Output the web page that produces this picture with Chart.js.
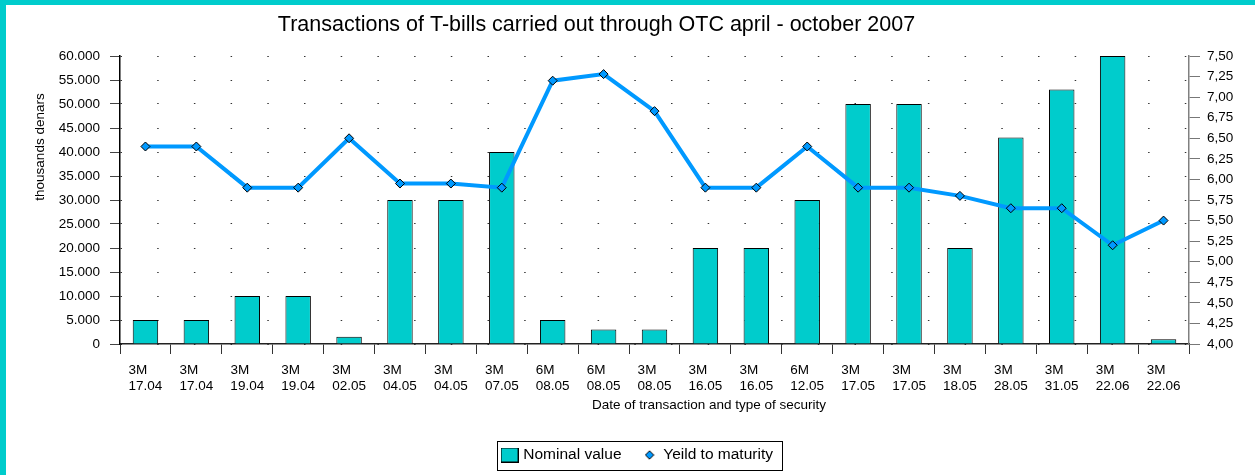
<!DOCTYPE html>
<html>
<head>
<meta charset="utf-8">
<script src="https://cdn.jsdelivr.net/npm/chart.js@4.4.1/dist/chart.umd.min.js"></script>
<style>
  html, body { margin: 0; padding: 0; width: 1255px; height: 475px; overflow: hidden; background: #fff; }
  #wrap { position: absolute; left: 6px; top: 5px; width: 1244px; height: 470px; }
  #frameL { position: absolute; left: 0; top: 0; width: 6px; height: 475px; background: #00CCCC; z-index: 5; }
  #frameT { position: absolute; left: 0; top: 0; width: 1255px; height: 5px; background: #00CCCC; z-index: 5; }
</style>
</head>
<body>
<div id="frameL"></div><div id="frameT"></div>
<div id="wrap"><canvas id="c" width="1244" height="470"></canvas></div>
<script>
const TITLE = 'Transactions of T-bills carried out through OTC april - october 2007';
const X_TITLE = 'Date of transaction and type of security';
const Y_TITLE = 'thousands denars';
const SERIES_NAMES = ['Nominal value', 'Yeild to maturity'];

const types = ['3M','3M','3M','3M','3M','3M','3M','3M','6M','6M','3M','3M','3M','6M','3M','3M','3M','3M','3M','3M','3M'];
const dates = ['17.04','17.04','19.04','19.04','02.05','04.05','04.05','07.05','08.05','08.05','08.05','16.05','16.05','12.05','17.05','17.05','18.05','28.05','31.05','22.06','22.06'];

const nominalValue = [5000, 5000, 10000, 10000, 1500, 30000, 30000, 40000, 5000, 3000, 3000, 20000, 20000, 30000, 50000, 50000, 20000, 43000, 53000, 60000, 1000];
const yieldToMaturity = [6.40, 6.40, 5.90, 5.90, 6.50, 5.95, 5.95, 5.90, 7.20, 7.28, 6.83, 5.90, 5.90, 6.40, 5.90, 5.90, 5.80, 5.65, 5.65, 5.20, 5.50];

const leftTicks = { min: 0, max: 60000, step: 5000 };
const rightTicks = { min: 4.0, max: 7.5, step: 0.25 };

const FONT = 'Liberation Sans, Arial, Helvetica, sans-serif';
const TEAL = '#00CCCC';
const BLUE = '#0099FF';

// labels: type on first line (left-aligned by padding), date on second
const labels = types.map((t, i) => [t + '    ', dates[i]]);

function fmtThousands(v) {
  const s = Math.round(v).toString();
  return s.replace(/\B(?=(\d{3})+(?!\d))/g, '.');
}

// legend icons
function makeSquareIcon() {
  const c = document.createElement('canvas');
  c.width = 18; c.height = 15;
  const g = c.getContext('2d');
  g.fillStyle = TEAL; g.fillRect(0, 0, 18, 15);
  g.strokeStyle = '#000'; g.lineWidth = 1; g.strokeRect(0.5, 0.5, 17, 14);
  return c;
}
function makeDiamondIcon() {
  const c = document.createElement('canvas');
  c.width = 10; c.height = 10;
  const g = c.getContext('2d');
  g.beginPath(); g.moveTo(5, 0.8); g.lineTo(9.2, 5); g.lineTo(5, 9.2); g.lineTo(0.8, 5); g.closePath();
  g.fillStyle = BLUE; g.fill(); g.strokeStyle = '#000'; g.lineWidth = 1; g.stroke();
  return c;
}
const legendIcons = [makeSquareIcon(), makeDiamondIcon()];

const textPlugin = {
  id: 'textPlugin',
  afterDraw(chart) {
    const ctx = chart.ctx;
    ctx.save();
    ctx.fillStyle = '#000';
    ctx.textAlign = 'center';
    ctx.textBaseline = 'middle';
    ctx.font = '21.5px ' + FONT;
    ctx.fillText(TITLE, 590.5, 20);
    ctx.font = '13.5px ' + FONT;
    ctx.fillText(X_TITLE, 703, 400.5);
    ctx.translate(34, 142);
    ctx.rotate(-Math.PI / 2);
    ctx.fillText(Y_TITLE, 0, 0);
    ctx.restore();
    // legend frame
    const hb = chart.legend && chart.legend.legendHitBoxes;
    if (hb && hb.length) {
      const last = hb[hb.length - 1];
      const left = hb[0].left - 6.5;
      const right = last.left + last.width + 9.5;
      const cy = hb[0].top + hb[0].height / 2;
      ctx.save();
      ctx.strokeStyle = '#000';
      ctx.lineWidth = 1;
      ctx.strokeRect(Math.round(left) + 0.5, Math.round(cy - 14.5) + 0.5, Math.round(right - left), 29);
      ctx.restore();
    }
  }
};

new Chart(document.getElementById('c'), {
  type: 'bar',
  data: {
    labels: labels,
    datasets: [
      {
        type: 'bar',
        label: SERIES_NAMES[0],
        data: nominalValue,
        yAxisID: 'y',
        backgroundColor: TEAL,
        borderColor: '#000',
        borderWidth: 1,
        barPercentage: 0.5,
        categoryPercentage: 1.0,
        order: 1
      },
      {
        type: 'line',
        label: SERIES_NAMES[1],
        data: yieldToMaturity,
        yAxisID: 'y1',
        borderColor: BLUE,
        borderWidth: 4,
        tension: 0,
        pointStyle: 'rectRot',
        pointRadius: 4.5,
        pointBackgroundColor: BLUE,
        pointBorderColor: '#000',
        pointBorderWidth: 1,
        order: 0
      }
    ]
  },
  options: {
    responsive: false,
    animation: false,
    devicePixelRatio: 1,
    layout: { padding: { left: 22, right: 1.5, top: 51, bottom: 2.25 } },
    plugins: {
      title: { display: false },
      tooltip: { enabled: false },
      legend: {
        display: true,
        position: 'bottom',
        labels: {
          usePointStyle: true,
          boxWidth: 12,
          padding: 22,
          color: '#000',
          font: { family: FONT, size: 15.5 },
          sort: (a, b) => a.datasetIndex - b.datasetIndex,
          generateLabels: (chart) => {
            const items = Chart.defaults.plugins.legend.labels.generateLabels(chart);
            items.forEach(it => { it.pointStyle = legendIcons[it.datasetIndex]; });
            return items;
          }
        }
      }
    },
    scales: {
      x: {
        offset: true,
        grid: { display: true, drawOnChartArea: false, drawTicks: true, tickLength: 10, color: '#333', offset: true },
        border: { display: true, color: '#222', width: 1.5 },
        ticks: {
          color: '#000',
          font: { family: FONT, size: 13.5, lineHeight: 1.2 },
          padding: 8,
          maxRotation: 0,
          autoSkip: false
        },
        afterFit: (s) => { s.height = 81.25; }
      },
      y: {
        position: 'left',
        min: leftTicks.min,
        max: leftTicks.max,
        grid: { display: true, color: '#333', lineWidth: 1, tickLength: 10, tickColor: '#444' },
        border: { display: true, color: '#000', width: 1.5, dash: [1.5, 35.2] },
        ticks: {
          stepSize: leftTicks.step,
          color: '#000',
          padding: 10,
          font: { family: FONT, size: 13.5 },
          callback: (v) => fmtThousands(v)
        },
        afterFit: (s) => { s.width = 92; }
      },
      y1: {
        position: 'right',
        min: rightTicks.min,
        max: rightTicks.max,
        grid: { display: true, drawOnChartArea: false, tickLength: 11, tickColor: '#777', color: '#777' },
        border: { display: true, color: '#808080', width: 1.5 },
        ticks: {
          stepSize: rightTicks.step,
          color: '#000',
          padding: 7,
          font: { family: FONT, size: 13.5 },
          callback: (v) => v.toFixed(2).replace('.', ',')
        },
        afterFit: (s) => { s.width = 59.5; }
      }
    }
  },
  plugins: [textPlugin]
});
</script>
</body>
</html>
